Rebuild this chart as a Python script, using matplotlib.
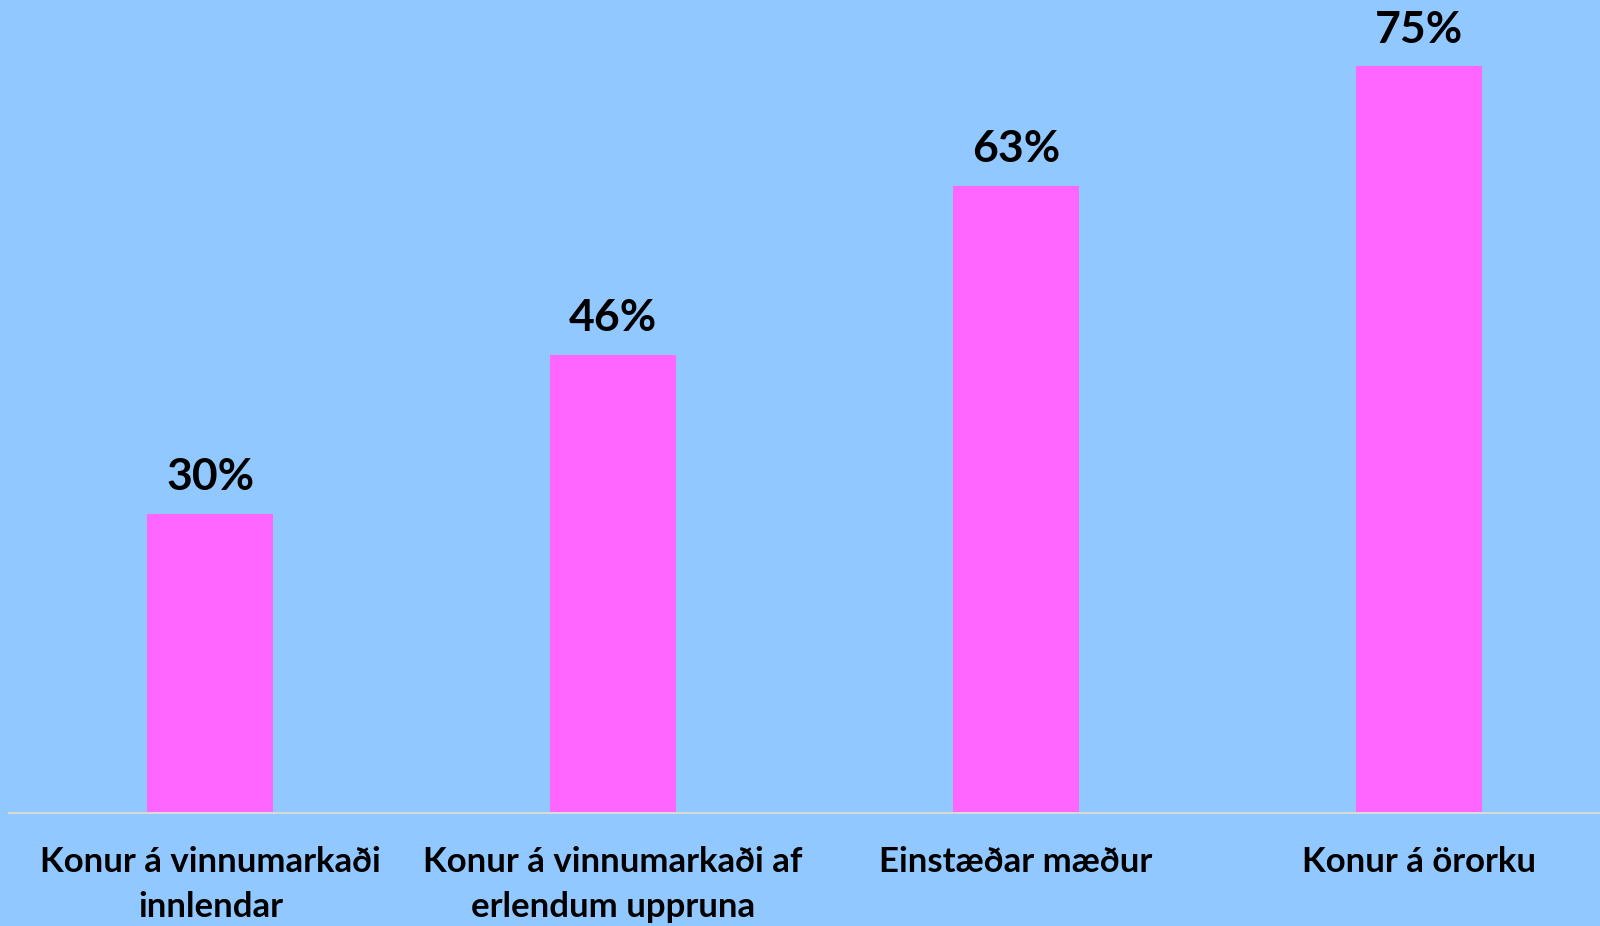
import matplotlib
matplotlib.use("Agg")
import matplotlib.pyplot as plt

categories = ["Konur á vinnumarkaði\ninnlendar",
              "Konur á vinnumarkaði af\nerlendum uppruna",
              "Einstæðar mæður",
              "Konur á örorku"]
values = [30, 46, 63, 75]
value_labels = ["30%", "46%", "63%", "75%"]

bg = "#90C8FF"
bar_color = "#FF66FF"

fig = plt.figure(figsize=(16, 9.26), dpi=100, facecolor=bg)
ax = fig.add_axes([9/1600, (926-812.5)/926, 1611/1600, 812.5/926])
ax.set_facecolor(bg)
x = list(range(len(categories)))
ax.bar(x, values, width=0.313, color=bar_color, zorder=2)
ax.set_xlim(-0.5, 3.5)
ax.set_ylim(0, 81.66)
for s in ["top", "right", "left"]:
    ax.spines[s].set_visible(False)
ax.spines["bottom"].set_color("#D9D9D9")
ax.spines["bottom"].set_linewidth(1.5)
ax.set_yticks([])
ax.set_xticks(x)
ax.set_xticklabels(categories, fontsize=25, fontweight="bold", family="Lato",
                   linespacing=1.5)
ax.tick_params(axis="x", length=0, pad=24)
for xi, v, lab in zip(x, values, value_labels):
    ax.annotate(lab, (xi, v), xytext=(0, 12), textcoords="offset points",
                ha="center", va="bottom", fontsize=32, fontweight="bold",
                family="Lato", clip_on=False)

fig.savefig("out.png", dpi=100, facecolor=bg)
